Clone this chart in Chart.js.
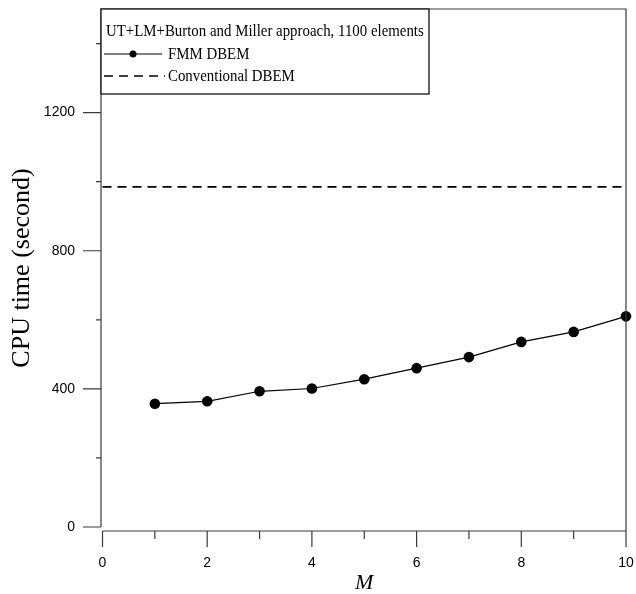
<!DOCTYPE html>
<html>
<head>
<meta charset="utf-8">
<script src="https://cdn.jsdelivr.net/npm/chart.js@4.4.1/dist/chart.umd.min.js"></script>
<style>
  html, body { margin: 0; padding: 0; background: #ffffff; }
  #wrap { width: 636px; height: 594px; }
</style>
</head>
<body>
<div id="wrap"><canvas id="cpu" width="636" height="594"></canvas></div>
<script>
// Multipole expansion order M and the CPU time of each solver
const mValues = [1, 2, 3, 4, 5, 6, 7, 8, 9, 10];
const fmmTimes = [357, 364, 393, 401, 428, 460, 492, 536, 565, 610];
const conventionalX = [0, 10];
const conventionalTimes = [985, 985];

const xTickValues = [0, 1, 2, 3, 4, 5, 6, 7, 8, 9, 10];
const yTickValues = [0, 200, 400, 600, 800, 1000, 1200, 1400];

const legendTitle = 'UT+LM+Burton and Miller approach, 1100 elements';
const seriesNames = ['FMM DBEM', 'Conventional DBEM'];
const xTitle = 'M';
const yTitle = 'CPU time (second)';

const fmmPoints = mValues.map((m, i) => ({ x: m, y: fmmTimes[i] }));
const convPoints = conventionalX.map((m, i) => ({ x: m, y: conventionalTimes[i] }));

const AXIS_COLOR = '#3a3a3a';
const X_AXIS_DROP = 4;

// keep the plot rectangle fixed: no automatic edge padding for labels
function fixedBox(size, prop) {
  return scale => {
    scale[prop] = size;
    scale.paddingTop = 0;
    scale.paddingBottom = 0;
    scale.paddingLeft = 0;
    scale.paddingRight = 0;
  };
}

// Frame, tick marks and the boxed legend drawn against the chart's scales
const framePlugin = {
  id: 'frame',
  afterDraw(chart) {
    const { ctx, chartArea: a, scales: { x, y } } = chart;
    const axisX = a.left - 1.5;
    const axisY = a.bottom + X_AXIS_DROP;
    ctx.save();
    ctx.strokeStyle = AXIS_COLOR;
    ctx.lineWidth = 1.2;
    ctx.beginPath();
    // left axis and top / right border
    ctx.moveTo(axisX, y.getPixelForValue(0));
    ctx.lineTo(axisX, a.top);
    ctx.lineTo(a.right, a.top);
    ctx.lineTo(a.right, axisY);
    // bottom axis
    ctx.moveTo(x.getPixelForValue(0), axisY);
    ctx.lineTo(a.right, axisY);
    // x ticks
    xTickValues.forEach(v => {
      const px = x.getPixelForValue(v);
      const len = v % 2 === 0 ? 16 : 8;
      ctx.moveTo(px, axisY);
      ctx.lineTo(px, axisY + len);
    });
    // y ticks
    yTickValues.forEach(v => {
      const py = y.getPixelForValue(v);
      const len = v % 400 === 0 ? 18 : 5;
      ctx.moveTo(axisX - len, py);
      ctx.lineTo(axisX, py);
    });
    ctx.stroke();

    // legend box
    const bx = axisX, by = a.top, bw = 328, bh = 85;
    ctx.fillStyle = '#ffffff';
    ctx.fillRect(bx, by, bw, bh);
    ctx.strokeStyle = '#111111';
    ctx.lineWidth = 1.3;
    ctx.strokeRect(bx, by, bw, bh);

    const fmmSet = chart.data.datasets[0];
    const convSet = chart.data.datasets[1];
    const row1 = by + 22, row2 = by + 45, row3 = by + 67;

    // FMM sample: line with a dot
    ctx.strokeStyle = fmmSet.borderColor;
    ctx.lineWidth = fmmSet.borderWidth;
    ctx.beginPath();
    ctx.moveTo(bx + 3, row2);
    ctx.lineTo(bx + 61, row2);
    ctx.stroke();
    ctx.fillStyle = fmmSet.pointBackgroundColor;
    ctx.beginPath();
    ctx.arc(bx + 32, row2, 3.5, 0, Math.PI * 2);
    ctx.fill();

    // conventional sample: dashed line
    ctx.strokeStyle = convSet.borderColor;
    ctx.lineWidth = convSet.borderWidth;
    ctx.setLineDash(convSet.borderDash);
    ctx.beginPath();
    ctx.moveTo(bx + 3, row3);
    ctx.lineTo(bx + 64, row3);
    ctx.stroke();
    ctx.setLineDash([]);

    // legend text in a narrow serif face
    ctx.fillStyle = '#000000';
    ctx.font = '17.5px "Liberation Serif", "Times New Roman", serif';
    ctx.textBaseline = 'middle';
    ctx.textAlign = 'left';
    const drawNarrow = (text, tx, ty) => {
      ctx.save();
      ctx.translate(tx, ty);
      ctx.scale(0.85, 1);
      ctx.fillText(text, 0, 0);
      ctx.restore();
    };
    drawNarrow(legendTitle, bx + 5, row1);
    drawNarrow(seriesNames[0], bx + 67, row2);
    drawNarrow(seriesNames[1], bx + 67, row3);
    ctx.restore();
  }
};

const tickFont = { family: '"Liberation Sans", Arial, sans-serif', size: 14 };

new Chart(document.getElementById('cpu'), {
  type: 'scatter',
  data: {
    datasets: [
      {
        label: seriesNames[0],
        data: fmmPoints,
        showLine: true,
        borderColor: '#000000',
        borderWidth: 1.2,
        pointRadius: 5.3,
        pointBackgroundColor: '#000000',
        pointBorderColor: '#000000',
        pointBorderWidth: 0,
        clip: false
      },
      {
        label: seriesNames[1],
        data: convPoints,
        showLine: true,
        borderColor: '#000000',
        borderWidth: 1.6,
        borderDash: [9, 6],
        pointRadius: 0,
        clip: false
      }
    ]
  },
  options: {
    responsive: false,
    animation: false,
    layout: { padding: { top: 9, right: 10, bottom: 0, left: 0 }, autoPadding: false },
    plugins: {
      legend: { display: false },
      tooltip: { enabled: false }
    },
    scales: {
      x: {
        type: 'linear',
        min: 0,
        max: 10,
        afterFit: fixedBox(67, 'height'),
        grid: { display: false, drawTicks: false },
        border: { display: false },
        ticks: {
          stepSize: 1,
          color: '#000000',
          font: tickFont,
          padding: 28,
          maxRotation: 0,
          callback: v => (v % 2 === 0 ? String(v) : '')
        },
        title: {
          display: true,
          text: xTitle,
          color: '#000000',
          font: { family: '"Liberation Serif", "Times New Roman", serif', size: 22, style: 'italic', lineHeight: 1 },
          padding: { top: 0, bottom: 0 }
        }
      },
      y: {
        type: 'linear',
        min: 0,
        max: 1500,
        afterFit: fixedBox(102.5, 'width'),
        grid: { display: false, drawTicks: false },
        border: { display: false },
        ticks: {
          stepSize: 200,
          color: '#000000',
          font: tickFont,
          padding: 27.5,
          callback: v => (v % 400 === 0 ? String(v) : '')
        },
        title: {
          display: true,
          text: yTitle,
          color: '#000000',
          font: { family: '"Liberation Serif", "Times New Roman", serif', size: 26, lineHeight: 1 },
          padding: { top: 9, bottom: 0 }
        }
      }
    }
  },
  plugins: [framePlugin]
});
</script>
</body>
</html>
